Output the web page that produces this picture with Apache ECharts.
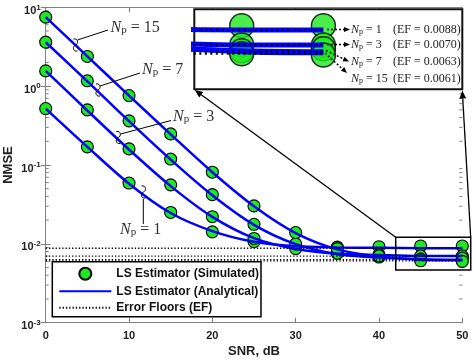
<!DOCTYPE html>
<html><head><meta charset="utf-8">
<script src="https://cdn.jsdelivr.net/npm/echarts@6/dist/echarts.min.js"></script>
<style>html,body{margin:0;padding:0;background:#fff}#c{width:473px;height:361px}</style>
</head><body><div id="c"></div>
<script>
// ---- data ----
const snr = [0, 5, 10, 15, 20, 25, 30, 35, 40, 45, 50];
const pilotCounts = [1, 3, 7, 15];
const errorFloors = [0.0088, 0.0070, 0.0063, 0.0061];
const analyticNp1  = [0.52, 0.17, 0.058, 0.0246, 0.0145, 0.0106, 0.0093, 0.0090, 0.0089, 0.0088, 0.0088];
const analyticNp3  = [1.56, 0.49, 0.157, 0.054, 0.0220, 0.0118, 0.0086, 0.0075, 0.0072, 0.0070, 0.0070];
const analyticNp7  = [3.6, 1.15, 0.36, 0.117, 0.0413, 0.0174, 0.0099, 0.0074, 0.0067, 0.0064, 0.0063];
const analyticNp15 = [7.5, 2.38, 0.76, 0.245, 0.081, 0.0300, 0.0137, 0.0085, 0.0069, 0.0063, 0.0062];
const simNp1  = [0.52, 0.17, 0.059, 0.025, 0.0142, 0.0107, 0.0094, 0.0091, 0.0092, 0.0094, 0.0094];
const simNp3  = [1.56, 0.50, 0.16, 0.056, 0.0221, 0.0117, 0.0087, 0.0077, 0.0073, 0.0070, 0.0070];
const simNp7  = [3.62, 1.17, 0.363, 0.119, 0.0421, 0.0177, 0.0100, 0.0076, 0.0068, 0.0064, 0.0066];
const simNp15 = [7.5, 2.38, 0.76, 0.248, 0.081, 0.0303, 0.0139, 0.0087, 0.0070, 0.0061, 0.0060];
const xTicks = { min: 0, max: 50, interval: 10 };
const yRange = { min: 0.001, max: 10 };
const insetX = { min: 42.1, max: 58.5 };
const insetY = { min: 0.00354, max: 0.01209 };
const xAxisTitle = 'SNR, dB';
const yAxisTitle = 'NMSE';

const anaSets = [analyticNp1, analyticNp3, analyticNp7, analyticNp15];
const simSets = [simNp1, simNp3, simNp7, simNp15];
const minorTicks = [];
for (let e = -3; e < 1; e++) for (let m = 2; m <= 9; m++) minorTicks.push(m * Math.pow(10, e));

const BLUE = '#0000ff', GREEN = '#1ee81e';
const SANS = 'Liberation Sans, Arial, sans-serif';
const SERIF = 'Liberation Serif, Times New Roman, serif';
const pairs = arr => snr.map((s, i) => [s, arr[i]]);

const chart = echarts.init(document.getElementById('c'));
const series = [];
simSets.forEach(arr => series.push({
  type: 'scatter', name: 'LS Estimator (Simulated)', xAxisIndex: 0, yAxisIndex: 0,
  data: pairs(arr), symbol: 'circle', symbolSize: 12, z: 2,
  itemStyle: { color: GREEN, borderColor: '#000', borderWidth: 1.1, opacity: 1 }
}));
anaSets.forEach(arr => series.push({
  type: 'line', name: 'LS Estimator (Analytical)', xAxisIndex: 0, yAxisIndex: 0,
  data: pairs(arr), symbol: 'none', smooth: 0.3, z: 3,
  itemStyle: { color: BLUE }, lineStyle: { color: BLUE, width: 2.5 }
}));
errorFloors.forEach(ef => series.push({
  type: 'line', name: 'Error Floors (EF)', xAxisIndex: 0, yAxisIndex: 0,
  data: [[xTicks.min, ef], [xTicks.max, ef]], symbol: 'none', z: 4,
  itemStyle: { color: '#000' }, lineStyle: { color: '#000', width: 1.3, type: [1.3, 2] }
}));
// minor log ticks (left and right)
series.push({
  type: 'custom', xAxisIndex: 0, yAxisIndex: 0, z: 1, silent: true,
  data: minorTicks.map(v => [0, v]),
  renderItem: (params, api) => {
    const v = api.value(1);
    const l = api.coord([xTicks.min, v]), r = api.coord([xTicks.max, v]);
    return { type: 'group', children: [
      { type: 'line', shape: { x1: l[0], y1: l[1], x2: l[0] + 3, y2: l[1] }, style: { stroke: '#808080', lineWidth: 1 } },
      { type: 'line', shape: { x1: r[0], y1: r[1], x2: r[0] - 3, y2: r[1] }, style: { stroke: '#808080', lineWidth: 1 } }
    ]};
  }
});
// inset series
simSets.forEach(arr => series.push({
  type: 'scatter', name: 'in-sim', xAxisIndex: 2, yAxisIndex: 2, clip: true,
  data: pairs(arr), symbol: 'circle', symbolSize: 24, z: 5,
  itemStyle: { color: GREEN, borderColor: '#000', borderWidth: 1.5 }
}));
anaSets.forEach(arr => series.push({
  type: 'line', name: 'in-ana', xAxisIndex: 2, yAxisIndex: 2, clip: true,
  data: pairs(arr), symbol: 'none', smooth: 0.3, z: 6,
  lineStyle: { color: BLUE, width: 5 }
}));
errorFloors.forEach(ef => series.push({
  type: 'line', name: 'in-ef', xAxisIndex: 2, yAxisIndex: 2, clip: true,
  data: [[xTicks.min, ef], [xTicks.max, ef]], symbol: 'none', z: 7,
  lineStyle: { color: '#000', width: 2, type: [2, 3.5] }
}));

function arrow(x1, y1, x2, y2, dash, lw, head) {
  const a = Math.atan2(y2 - y1, x2 - x1), L = head, W = head * 0.42;
  const bx = x2 - L * Math.cos(a), by = y2 - L * Math.sin(a);
  const px = -Math.sin(a) * W, py = Math.cos(a) * W;
  const st = { stroke: '#000', lineWidth: lw };
  if (dash) st.lineDash = dash;
  return [
    { type: 'line', z: 100, shape: { x1, y1, x2: bx, y2: by }, style: st },
    { type: 'polygon', z: 100, shape: { points: [[x2, y2], [bx + px, by + py], [bx - px, by - py]] }, style: { fill: '#000' } }
  ];
}
function npText(x, y, n, size, color) {
  return { type: 'text', z: 100, style: {
    x, y, verticalAlign: 'middle', align: 'left',
    text: '{n|N}{p|p}{t| = ' + n + '}',
    rich: {
      n: { fontFamily: SERIF, fontStyle: 'italic', fontSize: size, lineHeight: size, verticalAlign: 'top', fill: color },
      p: { fontFamily: SERIF, fontSize: Math.round(size * 0.68), lineHeight: Math.round(size * 0.55), verticalAlign: 'bottom', fill: color },
      t: { fontFamily: SERIF, fontSize: size, lineHeight: size, verticalAlign: 'top', fill: color }
    }
  }};
}
function sBracket(cx, cy) {
  const st = { stroke: '#000', lineWidth: 1, fill: null };
  return [
    { type: 'bezierCurve', z: 100, shape: { x1: cx - 2, y1: cy - 6, cpx1: cx + 3, cpy1: cy - 7, cpx2: cx + 3, cpy2: cy - 1, x2: cx, y2: cy }, style: st },
    { type: 'bezierCurve', z: 100, shape: { x1: cx, y1: cy, cpx1: cx - 3, cpy1: cy + 1, cpx2: cx - 3, cpy2: cy + 7, x2: cx + 2, y2: cy + 6 }, style: st }
  ];
}
const line = (x1, y1, x2, y2) => ({ type: 'line', z: 100, shape: { x1, y1, x2, y2 }, style: { stroke: '#000', lineWidth: 1 } });

const graphic = [
  { type: 'text', z: 100, x: 8.5, y: 165, rotation: Math.PI / 2,
    style: { text: yAxisTitle, align: 'center', verticalAlign: 'middle', font: 'bold 13px ' + SANS, fill: '#222' } },
  { type: 'text', z: 100, x: 254, y: 351,
    style: { text: xAxisTitle, align: 'center', verticalAlign: 'middle', font: 'bold 13px ' + SANS, fill: '#222' } },
  npText(110.5, 27.5, pilotCounts[3], 16, '#333'), ...sBracket(75.5, 45), line(77.5, 40, 108, 30),
  npText(142, 70, pilotCounts[2], 16, '#333'), ...sBracket(98, 90), line(100, 86, 140, 73),
  npText(173, 116.7, pilotCounts[1], 16, '#333'), ...sBracket(118.3, 137.5), line(120.7, 134, 171, 120.5),
  npText(120, 230, pilotCounts[0], 16, '#333'), ...sBracket(143.5, 192), line(143.3, 199, 143.3, 224),
  { type: 'rect', z: 100, shape: { x: 395.7, y: 237.3, width: 75, height: 32.7 }, style: { stroke: '#000', lineWidth: 1.5, fill: null } },
  ...arrow(395.7, 237.3, 194.8, 90, null, 1.3, 8),
  ...arrow(470.7, 237.3, 462.3, 90.5, null, 1.3, 8),
  ...arrow(327, 29.5, 350, 29.5, [2, 2], 1.4, 6),
  ...arrow(327, 44.5, 350, 44.5, [2, 2], 1.4, 6),
  ...arrow(326, 50.5, 349, 61.5, [2, 2], 1.4, 6),
  ...arrow(325, 53, 347, 73, [2, 2], 1.4, 6)
];
const insetLabelY = [29.5, 44.5, 62, 79];
pilotCounts.forEach((n, i) => {
  graphic.push(npText(351, insetLabelY[i], n, 12, '#222'));
  graphic.push({ type: 'text', z: 100, style: { x: 393, y: insetLabelY[i], verticalAlign: 'middle',
    text: '(EF = ' + errorFloors[i].toFixed(4) + ')', font: '12px ' + SERIF, fill: '#222' } });
});

const axisGray = '#808080';
const tickLabel = { fontFamily: SANS, fontWeight: 'bold', fontSize: 11, color: '#222' };
chart.setOption({
  animation: false,
  backgroundColor: '#fff',
  grid: [
    { left: 45.7, top: 7.3, width: 416.6, height: 315.4, show: false },
    { left: 194.3, top: 9.3, width: 268, height: 80, show: true, backgroundColor: '#fff', borderColor: '#111', borderWidth: 2, z: 3 }
  ],
  xAxis: [
    { gridIndex: 0, type: 'value', min: xTicks.min, max: xTicks.max, interval: xTicks.interval, position: 'bottom',
      axisLine: { lineStyle: { color: axisGray } }, axisTick: { inside: true, length: 5, lineStyle: { color: axisGray } },
      axisLabel: Object.assign({ margin: 8 }, tickLabel), splitLine: { show: false } },
    { gridIndex: 0, type: 'value', min: xTicks.min, max: xTicks.max, interval: xTicks.interval, position: 'top',
      axisLine: { lineStyle: { color: axisGray } }, axisTick: { inside: true, length: 5, lineStyle: { color: axisGray } },
      axisLabel: { show: false }, splitLine: { show: false } },
    { gridIndex: 1, type: 'value', min: insetX.min, max: insetX.max, show: false }
  ],
  yAxis: [
    { gridIndex: 0, type: 'log', logBase: 10, min: yRange.min, max: yRange.max, position: 'left',
      axisLine: { show: true, lineStyle: { color: axisGray } }, axisTick: { inside: true, length: 5, lineStyle: { color: axisGray } },
      splitLine: { show: false },
      axisLabel: { margin: 5, padding: [7, 0, 0, 0],
        formatter: v => '{b|10}{s|' + Math.round(Math.log10(v)) + '}',
        rich: {
          b: { fontFamily: SANS, fontWeight: 'bold', fontSize: 11, lineHeight: 15, verticalAlign: 'middle', color: '#222' },
          s: { fontFamily: SANS, fontWeight: 'bold', fontSize: 8, lineHeight: 6, verticalAlign: 'top', color: '#222' }
        } } },
    { gridIndex: 0, type: 'log', logBase: 10, min: yRange.min, max: yRange.max, position: 'right',
      axisLine: { show: true, lineStyle: { color: axisGray } }, axisTick: { inside: true, length: 5, lineStyle: { color: axisGray } },
      axisLabel: { show: false }, splitLine: { show: false } },
    { gridIndex: 1, type: 'log', logBase: 10, min: insetY.min, max: insetY.max, show: false }
  ],
  legend: {
    data: [
      { name: 'LS Estimator (Simulated)' },
      { name: 'LS Estimator (Analytical)', itemStyle: { opacity: 0 } },
      { name: 'Error Floors (EF)', itemStyle: { opacity: 0 } }
    ],
    orient: 'vertical', left: 52.3, top: 261.7, itemWidth: 52, itemHeight: 12, itemGap: 4.5,
    padding: [5, 2, 3, 6], backgroundColor: '#fff', borderColor: '#000', borderWidth: 1.5, z: 10,
    selectedMode: false,
    textStyle: { fontFamily: SANS, fontWeight: 'bold', fontSize: 12, color: '#111' }
  },
  series,
  graphic
});
</script></body></html>
